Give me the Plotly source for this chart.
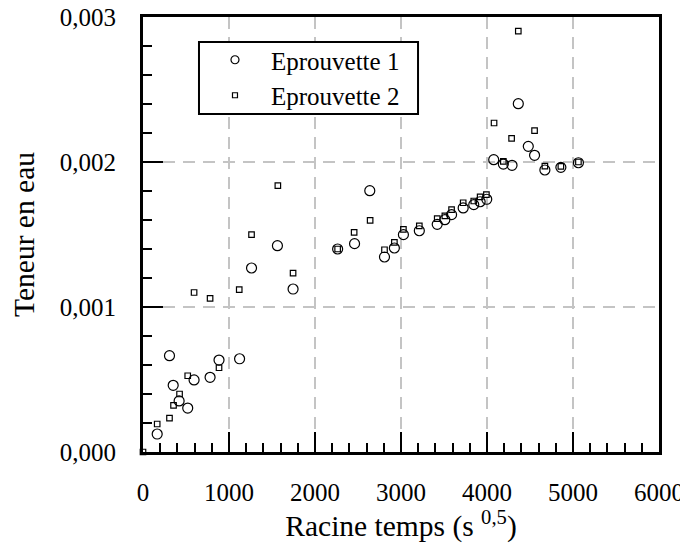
import plotly.graph_objects as go

# Eprouvette 1 (circles)
x1 = [165, 308, 351, 420, 520, 594, 780, 884, 1123, 1262, 1563, 1745, 2263, 2460, 2637,
      2808, 2923, 3028, 3213, 3421, 3510, 3588, 3723, 3846, 3920, 3997, 4078, 4190, 4291,
      4364, 4480, 4553, 4673, 4859, 5063]
y1 = [0.000124, 0.000664, 0.00046, 0.000352, 0.000303, 0.000497, 0.000515, 0.000634, 0.000643,
      0.001269, 0.001423, 0.001124, 0.0014, 0.001437, 0.001802, 0.001345, 0.001407, 0.001499,
      0.001526, 0.00157, 0.001602, 0.001637, 0.001683, 0.001706, 0.001726, 0.001743, 0.002016,
      0.001986, 0.001977, 0.002402, 0.002108, 0.002046, 0.001945, 0.001963, 0.001995]

# Eprouvette 2 (squares)
x2 = [0, 165, 308, 355, 425, 520, 594, 780, 884, 1119, 1262, 1568, 1745, 2263, 2455, 2641,
      2808, 2923, 3028, 3213, 3421, 3510, 3588, 3723, 3846, 3920, 3993, 4082, 4190, 4286,
      4364, 4553, 4673, 4859, 5063]
y2 = [0.0, 0.000193, 0.000234, 0.000322, 0.0004, 0.000526, 0.0011, 0.00106, 0.000581, 0.00112,
      0.001499, 0.001837, 0.001234, 0.0014, 0.001515, 0.001598, 0.001395, 0.001446, 0.001536,
      0.001559, 0.001609, 0.001628, 0.001671, 0.001719, 0.001731, 0.001759, 0.001775, 0.002269,
      0.002005, 0.002163, 0.002903, 0.002216, 0.001972, 0.00197, 0.002]

series_names = ["Eprouvette 1", "Eprouvette 2"]
x_ticks = [0, 1000, 2000, 3000, 4000, 5000, 6000]
y_ticks = [0.0, 0.001, 0.002, 0.003]

FONT = "Liberation Serif"

fig = go.Figure()
# data traces
fig.add_trace(go.Scatter(
    x=x1, y=y1, mode="markers", name=series_names[0], showlegend=False,
    marker=dict(symbol="circle-open", size=10, color="black", line=dict(width=1.2, color="black")),
    cliponaxis=False,
))
fig.add_trace(go.Scatter(
    x=x2, y=y2, mode="markers", name=series_names[1], showlegend=False,
    marker=dict(symbol="square-open", size=5.5, color="black", line=dict(width=1.2, color="black")),
    cliponaxis=False,
))
# legend entries (smaller symbols as in the original legend)
fig.add_trace(go.Scatter(
    x=[None], y=[None], mode="markers", name=series_names[0],
    marker=dict(symbol="circle-open", size=8, color="black", line=dict(width=1.2, color="black")),
))
fig.add_trace(go.Scatter(
    x=[None], y=[None], mode="markers", name=series_names[1],
    marker=dict(symbol="square-open", size=5, color="black", line=dict(width=1.2, color="black")),
))

axis_common = dict(
    showline=True, linecolor="black", linewidth=3, mirror=True,
    ticks="inside", ticklen=20, tickwidth=2, tickcolor="black",
    showgrid=True, gridcolor="#c4c4c4", gridwidth=2, griddash="12px,8px",
    zeroline=False, automargin=False, ticklabeloverflow="allow",
    tickfont=dict(family=FONT, size=25, color="black"),
)

fig.update_layout(
    width=680, height=542,
    margin=dict(l=135, r=29, t=9, b=98, autoexpand=False),
    paper_bgcolor="white", plot_bgcolor="white",
    separators=", ",
    font=dict(family=FONT, color="black"),
    xaxis=dict(
        range=[0, 6000], tickvals=x_ticks, tickformat="d",
        minor=dict(ticks="inside", ticklen=9, tickwidth=1.5, tickcolor="black", dtick=200, showgrid=False),
        ticklabelstandoff=16,
        title=dict(text="Racine temps (s <sup>0,5</sup>)", font=dict(family=FONT, size=29.5), standoff=5),
        **axis_common,
    ),
    yaxis=dict(
        range=[0, 0.003], tickvals=y_ticks, tickformat=".3f",
        minor=dict(ticks="inside", ticklen=9, tickwidth=1.5, tickcolor="black", dtick=0.0002, showgrid=False),
        ticklabelstandoff=19,
        title=dict(text="Teneur en eau", font=dict(family=FONT, size=29.5), standoff=18),
        **axis_common,
    ),
    legend=dict(
        x=0.1085, y=0.954, xanchor="left", yanchor="top",
        bgcolor="rgba(0,0,0,0)", borderwidth=0,
        font=dict(family=FONT, size=25, color="black"),
        itemsizing="trace", itemwidth=62,
        tracegroupgap=0,
    ),
    shapes=[dict(
        type="rect", xref="paper", yref="paper",
        x0=0.1085, x1=0.533, y0=0.777, y1=0.9425,
        line=dict(color="black", width=2), fillcolor="white", layer="above",
    )],
    showlegend=True,
)

fig.write_html("out.html")
